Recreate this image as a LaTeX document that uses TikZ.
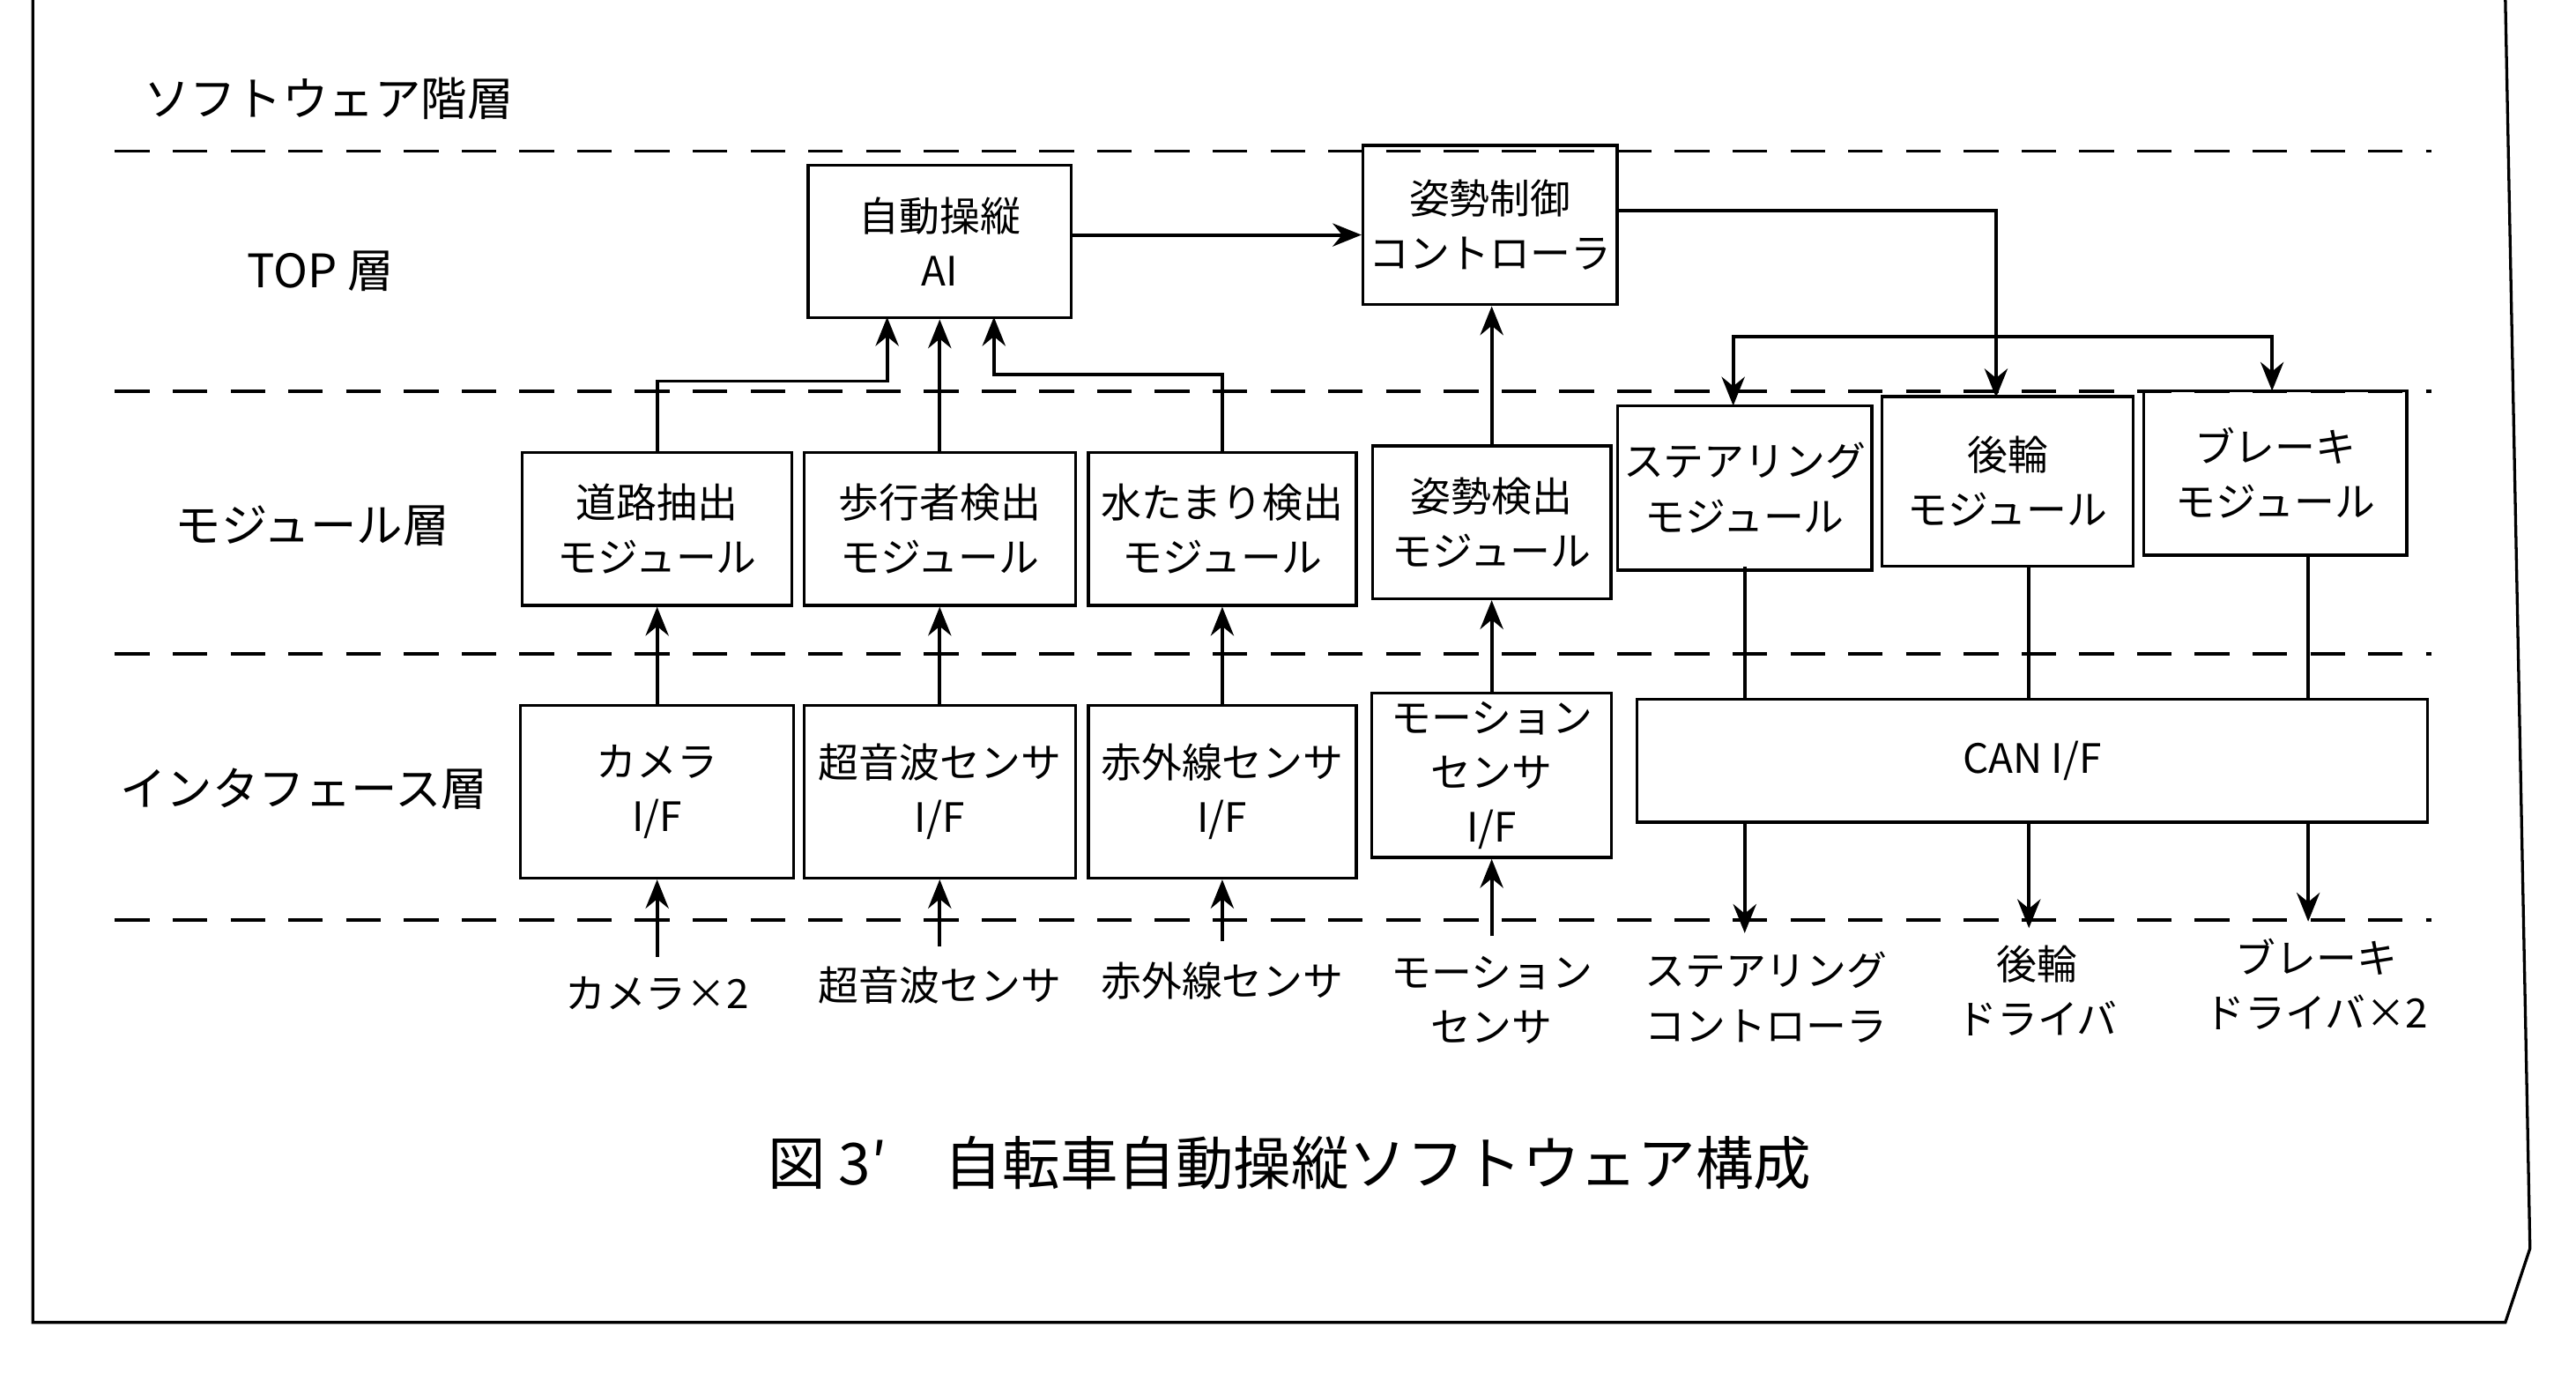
\documentclass[tikz,border=0pt]{standalone}
\usepackage{fontspec}
\setmainfont{Noto Sans CJK JP}
\usetikzlibrary{arrows.meta}
\tikzset{
  blk/.style={draw, line width=0.5pt, align=center, inner sep=1pt, font=\fontsize{7}{9.5}\selectfont},
  lyr/.style={font=\fontsize{8}{10}\selectfont},
  lbl/.style={align=center, font=\fontsize{7}{9.5}\selectfont},
  sep/.style={dashed, dash pattern=on 6pt off 4pt, line width=0.6pt},
  arr/.style={-{Stealth[length=5pt,width=4pt]}, line width=0.6pt},
}
\begin{document}
\begin{tikzpicture}[x=0.01cm,y=-0.01cm]
  \useasboundingbox (0,0) rectangle (1568,840);
  %%%%% frame %%%%%
  \draw[line width=0.5pt] (20,0) -- (20,805) -- (1525,805) -- (1540,760) -- (1525,0);
  %%%%% layers %%%%%
  \foreach \yy in {92,238,398,560} \draw[sep] (70,\yy) -- (1480,\yy);
  \node[lyr] (sw) at (200,60) {ソフトウェア階層};
  \node[lyr] (top) at (195,165) {TOP 層};
  \node[lyr] (mod) at (190,320) {モジュール層};
  \node[lyr] (itf) at (185,480) {インタフェース層};
  %%%%% TOP %%%%%
  \node[blk, minimum width=1.6cm, minimum height=0.93cm] (ai) at (572,147) {自動操縦\\AI};
  \node[blk, minimum width=1.42cm, minimum height=0.97cm] (pc) at (907,137) {姿勢制御\\コントローラ};
  %%%%% modules %%%%%
  \node[blk, minimum width=1.64cm, minimum height=0.93cm] (road) at (400,322) {道路抽出\\モジュール};
  \node[blk, minimum width=1.65cm, minimum height=0.93cm] (walk) at (572,322) {歩行者検出\\モジュール};
  \node[blk, minimum width=1.63cm, minimum height=0.93cm] (pool) at (744,322) {水たまり検出\\モジュール};
  \node[blk, minimum width=1.45cm, minimum height=0.93cm] (pose) at (908,318) {姿勢検出\\モジュール};
  \node[blk, minimum width=1.47cm, minimum height=1.0cm] (steer) at (1062,297) {ステアリング\\モジュール};
  \node[blk, minimum width=1.53cm, minimum height=1.03cm] (rear) at (1222,293) {後輪\\モジュール};
  \node[blk, minimum width=1.6cm, minimum height=1.0cm] (brake) at (1385,288) {ブレーキ\\モジュール};
  %%%%% interfaces %%%%%
  \node[blk, minimum width=1.66cm, minimum height=1.05cm] (cam) at (400,482) {カメラ\\I/F};
  \node[blk, minimum width=1.65cm, minimum height=1.05cm] (sonic) at (572,482) {超音波センサ\\I/F};
  \node[blk, minimum width=1.63cm, minimum height=1.05cm] (ir) at (744,482) {赤外線センサ\\I/F};
  \node[blk, minimum width=1.46cm, minimum height=1.0cm] (mot) at (908,472) {モーション\\センサ\\I/F};
  \node[blk, minimum width=4.81cm, minimum height=0.75cm, fill=white] (can) at (1237,463) {CAN I/F};
  %%%%% outside %%%%%
  \node[lbl] (camx) at (400,605) {カメラ×2};
  \node[lbl] (sonicx) at (572,600) {超音波センサ};
  \node[lbl] (irx) at (744,597) {赤外線センサ};
  \node[lbl] (motx) at (908,609) {モーション\\センサ};
  \node[lbl] (steerx) at (1075,607) {ステアリング\\コントローラ};
  \node[lbl] (rearx) at (1240,603) {後輪\\ドライバ};
  \node[lbl] (brakex) at (1410,599) {ブレーキ\\ドライバ×2};
  \node[font=\fontsize{10}{12}\selectfont] (cap) at (785,708) {図 3′\quad 自転車自動操縦ソフトウェア構成};
  %%%%% arrows %%%%%
  \foreach \s/\t in {camx/cam,sonicx/sonic,irx/ir,motx/mot,cam/road,sonic/walk,ir/pool,mot/pose,walk/ai}
    \draw[arr] (\s.north) -- (\t.south);
  \draw[arr] (pose.north) -- (pose.north |- pc.south);
  \draw[arr] (road.north) -- (400,232) -- (540,232) -- (540,193);
  \draw[arr] (pool.north) -- (744,228) -- (605,228) -- (605,193);
  \draw[arr] (ai.east |- 0,143) -- (pc.west |- 0,143);
  \draw[arr] (pc.east |- 0,128) -- (1215,128) -- (1215,242);
  \draw[arr] (1215,205) -- (1055,205) -- (1055,247);
  \draw[arr] (1215,205) -- (1383,205) -- (1383,238);
  \draw[arr] (1062,345) -- (1062,425) (1062,500) -- (1062,568);
  \draw[arr] (1235,345) -- (1235,425) (1235,500) -- (1235,565);
  \draw[arr] (1405,338) -- (1405,425) (1405,500) -- (1405,561);
\end{tikzpicture}
\end{document}
